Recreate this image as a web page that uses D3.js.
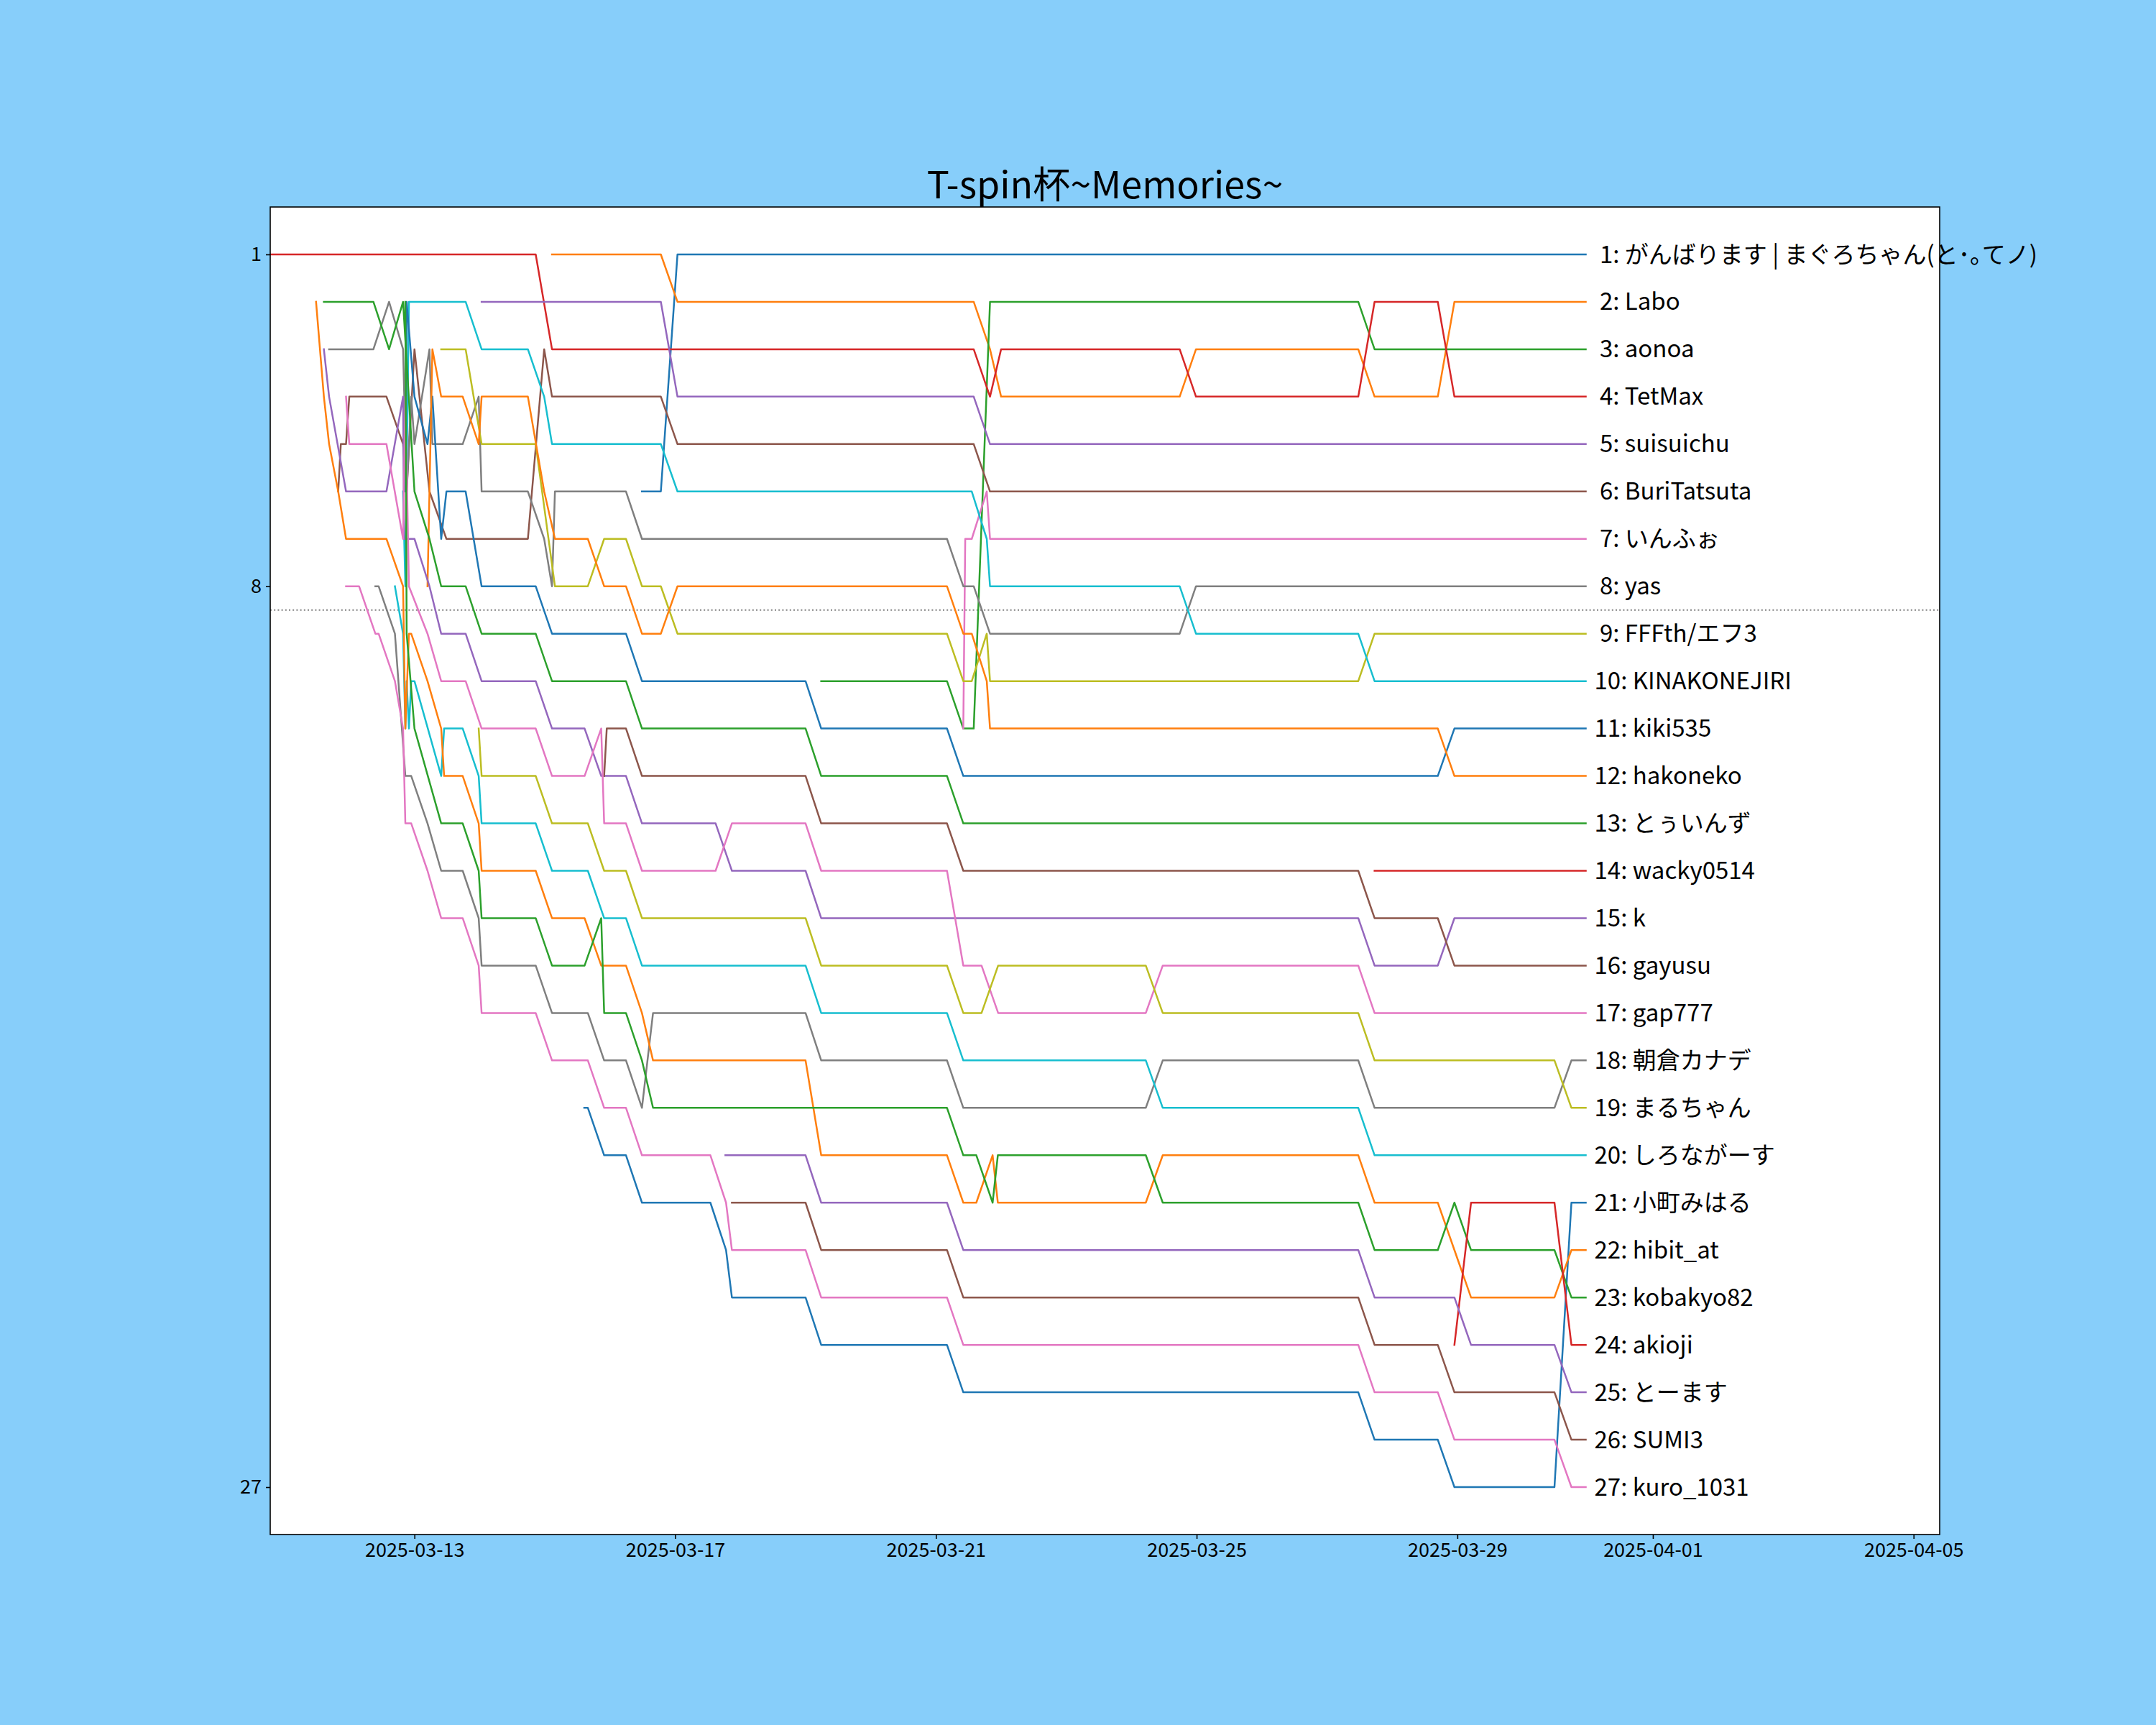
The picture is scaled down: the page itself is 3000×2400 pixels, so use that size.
<!DOCTYPE html>
<html>
<head>
<meta charset="utf-8">
<script src="https://cdn.jsdelivr.net/npm/d3@7"></script>
<style>
  body { margin: 0; background: #87cefa; }
  text { font-family: "Noto Sans CJK JP", "Noto Sans", sans-serif; }
</style>
</head>
<body>
<script>
// players, in final order
const names = [
  "がんばります | まぐろちゃん(と･｡てノ)", "Labo", "aonoa", "TetMax", "suisuichu",
  "BuriTatsuta", "いんふぉ", "yas", "FFFth/エフ3", "KINAKONEJIRI",
  "kiki535", "hakoneko", "とぅいんず", "wacky0514", "k",
  "gayusu", "gap777", "朝倉カナデ", "まるちゃん", "しろながーす",
  "小町みはる", "hibit_at", "kobakyo82", "akioji", "とーます",
  "SUMI3", "kuro_1031"
];

// [days after 2025-03-13 00:00 UTC, rank]
const s01 = [[3.49,6],[3.78,6],[4.035,1],[17.97,1]];
const s02 = [[2.11,1],[3.78,1],[4.035,2],[8.58,2],[8.83,3],[9.0,4],[11.74,4],[11.99,3],[14.48,3],[14.73,4],[15.70,4],[15.955,2],[17.97,2]];
const s03 = [[6.24,10],[8.17,10],[8.42,11],[8.58,11],[8.83,2],[14.48,2],[14.73,3],[17.97,3]];
const s04 = [[-2.21,1],[1.86,1],[2.11,3],[8.58,3],[8.83,4],[9.0,3],[11.74,3],[11.99,4],[14.48,4],[14.73,2],[15.70,2],[15.955,4],[17.97,4]];
const s05 = [[1.03,2],[3.78,2],[4.035,4],[8.58,4],[8.83,5],[17.97,5]];
const s06 = [[-1.17,6],[-1.13,5],[-1.05,5],[-1.0,4],[-0.43,4],[-0.175,5],[-0.12,6],[0.0,3],[0.23,6],[0.49,7],[1.74,7],[1.99,3],[2.11,4],[3.78,4],[4.035,5],[8.58,5],[8.83,6],[17.97,6]];
const s07 = [[8.42,11],[8.45,7],[8.55,7],[8.78,6],[8.83,7],[17.97,7]];
const s08 = [[-1.31,3],[-0.63,3],[-0.39,2],[-0.175,3],[-0.12,6],[-0.05,4],[0.0,5],[0.23,3],[0.275,5],[0.74,5],[0.985,4],[1.03,6],[1.74,6],[1.99,7],[2.11,8],[2.155,6],[3.245,6],[3.49,7],[8.17,7],[8.42,8],[8.58,8],[8.83,9],[11.74,9],[11.99,8],[17.97,8]];
const s09 = [[0.41,3],[0.785,3],[1.03,5],[1.86,5],[2.155,8],[2.66,8],[2.91,7],[3.245,7],[3.49,8],[3.78,8],[4.035,9],[8.17,9],[8.42,10],[8.55,10],[8.78,9],[8.83,10],[14.48,10],[14.73,9],[17.97,9]];
const s10 = [[-0.175,6],[-0.14,8],[-0.085,2],[0.785,2],[1.03,3],[1.74,3],[1.99,4],[2.11,5],[3.78,5],[4.035,6],[8.55,6],[8.78,7],[8.83,8],[11.74,8],[11.99,9],[14.48,9],[14.73,10],[17.97,10]];
const s11 = [[-0.14,6],[-0.12,2],[0.0,4],[0.20,5],[0.275,4],[0.41,7],[0.49,6],[0.785,6],[1.03,8],[1.86,8],[2.11,9],[3.245,9],[3.49,10],[6.0,10],[6.24,11],[8.17,11],[8.42,12],[15.70,12],[15.955,11],[17.97,11]];
const s12 = [[0.20,8],[0.275,3],[0.41,4],[0.74,4],[0.985,5],[1.03,4],[1.74,4],[1.99,6],[2.155,7],[2.66,7],[2.91,8],[3.245,8],[3.49,9],[3.78,9],[4.035,8],[8.17,8],[8.42,9],[8.55,9],[8.78,10],[8.83,11],[15.70,11],[15.955,12],[17.97,12]];
const s13 = [[-1.39,2],[-0.63,2],[-0.39,3],[-0.175,2],[0.0,6],[0.23,7],[0.41,8],[0.785,8],[1.03,9],[1.86,9],[2.11,10],[3.245,10],[3.49,11],[6.0,11],[6.24,12],[8.17,12],[8.42,13],[17.97,13]];
const s14 = [[14.73,14],[17.97,14]];
const s15 = [[-1.39,3],[-1.31,4],[-1.05,6],[-0.43,6],[-0.175,4],[-0.16,7],[0.0,7],[0.23,8],[0.41,9],[0.785,9],[1.03,10],[1.86,10],[2.11,11],[2.61,11],[2.865,12],[3.245,12],[3.49,13],[4.62,13],[4.87,14],[6.0,14],[6.24,15],[14.48,15],[14.73,16],[15.70,16],[15.955,15],[17.97,15]];
const s16 = [[2.91,12],[2.95,11],[3.245,11],[3.49,12],[6.0,12],[6.24,13],[8.17,13],[8.42,14],[14.48,14],[14.73,15],[15.70,15],[15.955,16],[17.97,16]];
const s17 = [[-1.05,4],[-1.0,5],[-0.43,5],[-0.175,7],[-0.14,4],[-0.085,8],[0.20,9],[0.41,10],[0.785,10],[1.03,11],[1.86,11],[2.11,12],[2.61,12],[2.865,11],[2.91,13],[3.245,13],[3.49,14],[4.62,14],[4.87,13],[6.0,13],[6.24,14],[8.17,14],[8.42,16],[8.70,16],[8.955,17],[11.22,17],[11.48,16],[14.48,16],[14.73,17],[17.97,17]];
const s18 = [[-0.60,8],[-0.55,8],[-0.30,9],[-0.14,12],[-0.05,12],[0.20,13],[0.41,14],[0.74,14],[0.985,15],[1.03,16],[1.86,16],[2.11,17],[2.66,17],[2.91,18],[3.245,18],[3.49,19],[3.66,17],[6.0,17],[6.24,18],[8.17,18],[8.42,19],[11.22,19],[11.48,18],[14.48,18],[14.73,19],[17.49,19],[17.75,18],[17.97,18]];
const s19 = [[0.985,11],[1.03,12],[1.86,12],[2.11,13],[2.66,13],[2.91,14],[3.245,14],[3.49,15],[6.0,15],[6.24,16],[8.17,16],[8.42,17],[8.70,17],[8.955,16],[11.22,16],[11.48,17],[14.48,17],[14.73,18],[17.49,18],[17.75,19],[17.97,19]];
const s20 = [[-0.30,8],[-0.175,9],[-0.14,11],[-0.12,10],[-0.085,11],[-0.05,10],[0.0,10],[0.41,12],[0.455,11],[0.74,11],[0.985,12],[1.03,13],[1.86,13],[2.11,14],[2.66,14],[2.91,15],[3.245,15],[3.49,16],[6.0,16],[6.24,17],[8.17,17],[8.42,18],[11.22,18],[11.48,19],[14.48,19],[14.73,20],[17.97,20]];
const s21 = [[2.605,19],[2.66,19],[2.91,20],[3.245,20],[3.49,21],[4.54,21],[4.78,22],[4.87,23],[6.0,23],[6.24,24],[8.17,24],[8.42,25],[14.48,25],[14.73,26],[15.70,26],[15.955,27],[17.49,27],[17.75,21],[17.97,21]];
const s22 = [[-1.51,2],[-1.39,4],[-1.31,5],[-1.17,6],[-1.05,7],[-0.43,7],[-0.175,8],[-0.14,11],[-0.085,9],[-0.05,9],[0.20,10],[0.41,11],[0.455,12],[0.74,12],[0.985,13],[1.03,14],[1.86,14],[2.11,15],[2.61,15],[2.865,16],[3.245,16],[3.49,17],[3.66,18],[6.0,18],[6.24,20],[8.17,20],[8.42,21],[8.62,21],[8.87,20],[8.95,21],[11.22,21],[11.48,20],[14.48,20],[14.73,21],[15.70,21],[16.21,23],[17.49,23],[17.75,22],[17.97,22]];
const s23 = [[-0.14,2],[-0.12,9],[0.0,11],[0.41,13],[0.74,13],[0.985,14],[1.03,15],[1.86,15],[2.11,16],[2.61,16],[2.865,15],[2.91,17],[3.245,17],[3.49,18],[3.66,19],[8.17,19],[8.42,20],[8.62,20],[8.87,21],[8.95,20],[11.22,20],[11.48,21],[14.48,21],[14.73,22],[15.70,22],[15.955,21],[16.21,22],[17.49,22],[17.75,23],[17.97,23]];
const s24 = [[15.955,24],[16.21,21],[17.49,21],[17.75,24],[17.97,24]];
const s25 = [[4.77,20],[6.0,20],[6.24,21],[8.17,21],[8.42,22],[14.48,22],[14.73,23],[15.955,23],[16.21,24],[17.49,24],[17.75,25],[17.97,25]];
const s26 = [[4.87,21],[6.0,21],[6.24,22],[8.17,22],[8.42,23],[14.48,23],[14.73,24],[15.70,24],[15.955,25],[17.49,25],[17.75,26],[17.97,26]];
const s27 = [[-1.05,8],[-0.85,8],[-0.60,9],[-0.55,9],[-0.30,10],[-0.175,11],[-0.14,13],[-0.05,13],[0.20,14],[0.41,15],[0.74,15],[0.985,16],[1.03,17],[1.86,17],[2.11,18],[2.66,18],[2.91,19],[3.245,19],[3.49,20],[4.54,20],[4.78,21],[4.87,22],[6.0,22],[6.24,23],[8.17,23],[8.42,24],[14.48,24],[14.73,25],[15.70,25],[15.955,26],[17.49,26],[17.75,27],[17.97,27]];

const seriesList = [s01,s02,s03,s04,s05,s06,s07,s08,s09,s10,s11,s12,s13,s14,s15,s16,s17,s18,s19,s20,s21,s22,s23,s24,s25,s26,s27];

const xTicks = ["2025-03-13","2025-03-17","2025-03-21","2025-03-25","2025-03-29","2025-04-01","2025-04-05"];
const yTicks = [1, 8, 27];
const xLimits = ["2025-03-10T18:53:00Z", "2025-04-05T09:36:00Z"];
const yLimits = [0, 28];
const cutoff = 8.5;
const title = "T-spin杯~Memories~";

const W = 3000, H = 2400;
const margin = {left: 376, right: 301, top: 288, bottom: 265};

const base = Date.UTC(2025, 2, 13);
const toDate = d => new Date(base + d * 864e5);

const svg = d3.select("body").append("svg")
              .attr("width", W)
              .attr("height", H);

svg.append("rect")
   .attr("width", W).attr("height", H)
   .attr("fill", "#87cefa");

let x = d3.scaleUtc()
          .domain(xLimits.map(s => new Date(s)))
          .range([margin.left, W - margin.right]);

let y = d3.scaleLinear()
          .domain(yLimits)
          .range([margin.top, H - margin.bottom]);

let color = d3.scaleOrdinal(d3.schemeCategory10);

svg.append("rect")
   .attr("x", margin.left).attr("y", margin.top)
   .attr("width", W - margin.left - margin.right)
   .attr("height", H - margin.top - margin.bottom)
   .attr("fill", "white");

// cutoff line below 8th place
svg.append("line")
   .attr("x1", margin.left).attr("x2", W - margin.right)
   .attr("y1", y(cutoff)).attr("y2", y(cutoff))
   .attr("stroke", "#808080")
   .attr("stroke-width", 2)
   .attr("stroke-dasharray", "2,3.2");

let line = d3.line()
             .x(d => x(toDate(d[0])))
             .y(d => y(d[1]));

svg.append("g")
   .selectAll("path")
   .data(seriesList).enter()
   .append("path")
   .attr("d", line)
   .attr("fill", "none")
   .attr("stroke", (d, i) => color(i))
   .attr("stroke-width", 2.5)
   .attr("stroke-linejoin", "round")
   .attr("stroke-linecap", "square");

// name labels at line ends
svg.append("g")
   .selectAll("text")
   .data(seriesList).enter()
   .append("text")
   .attr("x", d => x(toDate(d[d.length - 1][0])) + 12)
   .attr("y", d => y(d[d.length - 1][1]))
   .attr("dy", "0.35em")
   .attr("font-size", 33)
   .attr("fill", "black")
   .style("white-space", "pre")
   .text((d, i) => String(d[d.length - 1][1]).padStart(2, " ") + ": " + names[i]);

let xAxis = d3.axisBottom(x)
              .tickValues(xTicks.map(s => new Date(s + "T00:00:00Z")))
              .tickFormat(d3.utcFormat("%Y-%m-%d"))
              .tickSize(6)
              .tickPadding(6);

let yAxis = d3.axisLeft(y)
              .tickValues(yTicks)
              .tickSize(6)
              .tickPadding(6);

let gx = svg.append("g")
            .attr("transform", "translate(0," + (H - margin.bottom) + ")")
            .call(xAxis);

let gy = svg.append("g")
            .attr("transform", "translate(" + margin.left + ",0)")
            .call(yAxis);

[gx, gy].forEach(g => {
  g.select(".domain").remove();
  g.selectAll(".tick line").attr("stroke", "black").attr("stroke-width", 1.6);
  g.selectAll(".tick text")
   .attr("font-size", 27)
   .attr("fill", "black")
   .style("font-family", '"Noto Sans CJK JP", sans-serif');
});

svg.append("rect")
   .attr("x", margin.left).attr("y", margin.top)
   .attr("width", W - margin.left - margin.right)
   .attr("height", H - margin.top - margin.bottom)
   .attr("fill", "none")
   .attr("stroke", "black")
   .attr("stroke-width", 1.6);

svg.append("text")
   .attr("x", (margin.left + W - margin.right) / 2)
   .attr("y", margin.top - 12)
   .attr("text-anchor", "middle")
   .attr("font-size", 52)
   .attr("fill", "black")
   .text(title);
</script>
</body>
</html>
